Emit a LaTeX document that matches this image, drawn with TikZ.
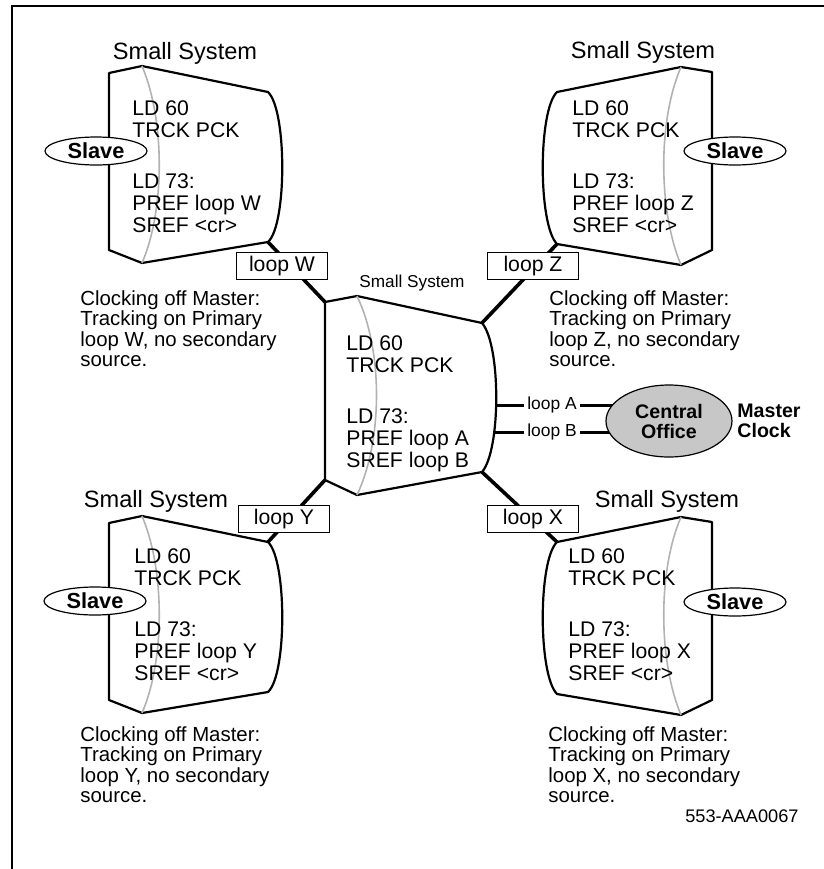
\documentclass[tikz,border=0pt]{standalone}
\usepackage{fontspec}
\setmainfont{Liberation Sans}
\usetikzlibrary{shapes.geometric,backgrounds}

\begin{document}
\begin{tikzpicture}[x=0.5pt, y=-0.5pt,
  sys/.style={draw, line width=1.1pt, line join=round},
  rim/.style={draw=black!30, line width=0.8pt},
  link/.style={draw, line width=1.8pt},
  title/.style={inner sep=0pt, font=\fontsize{11.8}{14}\selectfont},
  cfg/.style={anchor=north west, inner sep=0pt, align=left, font=\fontsize{10.6}{11}\selectfont},
  note/.style={anchor=north west, inner sep=0pt, align=left, font=\fontsize{10.2}{10.3}\selectfont},
  loopbox/.style={draw, fill=white, line width=0.6pt, minimum width=45.5pt, minimum height=13.5pt, inner sep=0pt, font=\fontsize{10.6}{12}\selectfont},
  slave/.style={ellipse, draw, fill=white, line width=0.6pt, minimum width=51pt, minimum height=14pt, inner sep=0pt, font=\fontsize{10.9}{12}\selectfont\bfseries},
  tag/.style={inner sep=1.5pt, font=\fontsize{8.7}{10}\selectfont}]
  \useasboundingbox (0,0) rectangle (824,869);
  \draw[line width=1.2pt] (830,6) -- (12,6) -- (12,875);

  % small system W (top left) and Y (bottom left)
  \draw[sys] (109,73) coordinate (W-tl) -- (142,66) -- (268,92)
    .. controls (287,110) and (287,225) .. (268,242) coordinate (W-br)
    -- (142,263) -- (109,250) -- cycle;
  \draw[rim] (142,66) .. controls (165,120) and (165,210) .. (142,263);
  \begin{scope}[shift={(0,450)}]
  \draw[sys] (109,73) -- (142,66) -- (268,92) coordinate (Y-tr)
    .. controls (287,110) and (287,225) .. (268,242)
    -- (142,263) -- (109,250) -- cycle;
  \draw[rim] (142,66) .. controls (165,120) and (165,210) .. (142,263);
  \end{scope}

  % small system Z (top right) and X (bottom right)
  \draw[sys] (712,72) -- (681,67) -- (557,92)
    .. controls (538,110) and (538,225) .. (557,244) coordinate (Z-bl)
    -- (681,265) -- (712,250) -- cycle;
  \draw[rim] (681,67) .. controls (658,120) and (658,210) .. (681,265);
  \begin{scope}[shift={(0,450)}]
  \draw[sys] (712,72) -- (681,67) -- (557,92) coordinate (X-tl)
    .. controls (538,110) and (538,225) .. (557,244)
    -- (681,265) -- (712,250) -- cycle;
  \draw[rim] (681,67) .. controls (658,120) and (658,210) .. (681,265);
  \end{scope}

  % central small system
  \draw[sys] (325,302) coordinate (C-tl) -- (357,296) -- (482,323) coordinate (C-tr)
    .. controls (501,345) and (501,450) .. (482,472) coordinate (C-br)
    -- (357,495) -- (325,480) coordinate (C-bl) -- cycle;
  \draw[rim] (357,296) .. controls (383,350) and (383,440) .. (357,495);
  \coordinate (C-a) at (496,405);
  \coordinate (C-b) at (495,432);

  \node[title] (tW) at (185,53) {Small System};
  \node[title] (tZ) at (643,52) {Small System};
  \node[title] (tY) at (156,501) {Small System};
  \node[title] (tX) at (667,501) {Small System};
  \node[inner sep=0pt, font=\fontsize{8.6}{10}\selectfont] (tC) at (412,283) {Small System};

  \node[cfg] (cW) at (132,100) {LD 60\\TRCK PCK\\[14.5pt]LD 73:\\PREF loop W\\SREF <cr>};
  \node[cfg] (cZ) at (572,100) {LD 60\\TRCK PCK\\[14.5pt]LD 73:\\PREF loop Z\\SREF <cr>};
  \node[cfg] (cY) at (134,548) {LD 60\\TRCK PCK\\[14.5pt]LD 73:\\PREF loop Y\\SREF <cr>};
  \node[cfg] (cX) at (568,548) {LD 60\\TRCK PCK\\[14.5pt]LD 73:\\PREF loop X\\SREF <cr>};
  \node[cfg] (cC) at (346,335) {LD 60\\TRCK PCK\\[14.5pt]LD 73:\\PREF loop A\\SREF loop B};

  \node[slave] (sW) at (96,151) {Slave};
  \node[slave] (sZ) at (735,151) {Slave};
  \node[slave] (sY) at (95,601) {Slave};
  \node[slave] (sX) at (735,602) {Slave};

  \node[loopbox] (lW) at (282,266) {loop W};
  \node[loopbox] (lZ) at (533,266) {loop Z};
  \node[loopbox] (lY) at (284,519) {loop Y};
  \node[loopbox] (lX) at (533,519) {loop X};

  \node[tag] (la) at (552,405) {loop A};
  \node[tag] (lb) at (552,432) {loop B};
  \node[ellipse, draw, fill=black!22, line width=0.6pt, minimum width=63pt, minimum height=36pt,
    inner sep=0pt, align=center, font=\fontsize{9.8}{10}\selectfont\bfseries] (co) at (669,421) {Central\\Office};
  \node[anchor=west, inner sep=0pt, align=left, font=\fontsize{9.8}{10}\selectfont\bfseries] (mc) at (737,421) {Master\\Clock};

  \begin{scope}[on background layer]
  \draw[link] (W-br) -- (C-tl);
  \draw[link] (Z-bl) -- (C-tr);
  \draw[link] (Y-tr) -- (C-bl);
  \draw[link] (X-tl) -- (C-br);
  \draw[link, line width=1.5pt] (C-a) -- (la.west);
  \draw[link, line width=1.5pt] (C-b) -- (lb.west);
  \draw[link, line width=1.5pt] (la.east) -- (la -| co);
  \draw[link, line width=1.5pt] (lb.east) -- (lb -| co);
  \end{scope}

  \node[note] (nW) at (80,290) {Clocking off Master:\\Tracking on Primary\\loop W, no secondary\\source.};
  \node[note] (nZ) at (549,290) {Clocking off Master:\\Tracking on Primary\\loop Z, no secondary\\source.};
  \node[note] (nY) at (80,726) {Clocking off Master:\\Tracking on Primary\\loop Y, no secondary\\source.};
  \node[note] (nX) at (548,726) {Clocking off Master:\\Tracking on Primary\\loop X, no secondary\\source.};

  \node[anchor=east, inner sep=0pt, font=\fontsize{9.1}{10}\selectfont] (fig) at (799,816) {553-AAA0067};
\end{tikzpicture}
\end{document}
